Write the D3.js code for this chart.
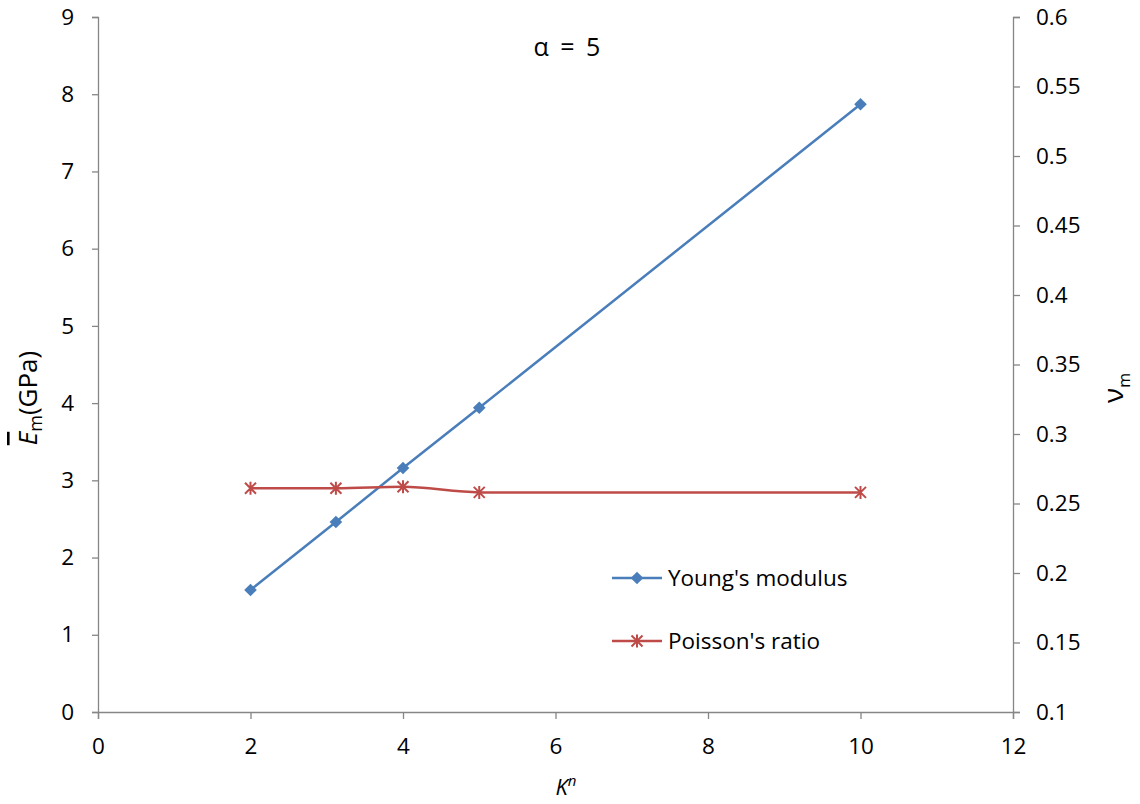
<!DOCTYPE html>
<html><head><meta charset="utf-8">
<script src="https://cdn.jsdelivr.net/npm/d3@7"></script>
<style>body{margin:0;background:#fff;} text{font-family:"Open Sans","Noto Sans",sans-serif;}</style>
</head><body>
<svg id="c" width="1140" height="804"></svg>
<script>
const xVals = [2, 3.12, 4, 5, 10];
const youngs = [1.58, 2.46, 3.16, 3.94, 7.87];
const poisson = [0.261, 0.261, 0.262, 0.258, 0.258];
const xTicks = [0, 2, 4, 6, 8, 10, 12];
const yLeftTicks = [0,1,2,3,4,5,6,7,8,9];
const yRightTicks = [0.1,0.15,0.2,0.25,0.3,0.35,0.4,0.45,0.5,0.55,0.6];
const seriesNames = ["Young's modulus", "Poisson's ratio"];

const svg = d3.select("#c");
const L = 98, R = 1013, T = 17, B = 712;
const x = d3.scaleLinear().domain([0,12]).range([L,R]);
const yL = d3.scaleLinear().domain([0,9]).range([B,T]);
const yR = d3.scaleLinear().domain([0.1,0.6]).range([B,T]);
const axisCol = "#868686", fs = "22.5px";

function style(g){
  g.select(".domain").attr("stroke", axisCol).attr("stroke-width",1.3);
  g.selectAll(".tick line").attr("stroke", axisCol).attr("stroke-width",1.3);
  g.selectAll(".tick text").attr("fill","#000").style("font-size",fs);
}
svg.append("g").attr("transform",`translate(0,${B})`)
  .call(d3.axisBottom(x).tickValues(xTicks).tickFormat(d3.format("d")).tickSizeOuter(0).tickSize(7).tickPadding(19)).call(style);
svg.append("g").attr("transform",`translate(${L},0)`)
  .call(d3.axisLeft(yL).tickValues(yLeftTicks).tickFormat(d3.format("d")).tickSizeOuter(0).tickSize(6).tickPadding(18)).call(style);
svg.append("g").attr("transform",`translate(${R},0)`)
  .call(d3.axisRight(yR).tickValues(yRightTicks).tickFormat(d=>String(+d.toFixed(2))).tickSizeOuter(0).tickSize(7).tickPadding(16)).call(style);

const blue = "#4a7ebb", red = "#be4b48";
const yd = xVals.map((v,i)=>[x(v), yL(youngs[i])]);
const pd = xVals.map((v,i)=>[x(v), yR(poisson[i])]);
svg.append("path").attr("d", d3.line()(yd)).attr("fill","none").attr("stroke",blue).attr("stroke-width",2.5);
svg.append("path").attr("d", d3.line().curve(d3.curveMonotoneX)(pd)).attr("fill","none").attr("stroke",red).attr("stroke-width",2.5);

function diamond(g, cx, cy){
  g.append("path").attr("d", d3.symbol(d3.symbolSquare, 80)()).attr("transform",`translate(${cx},${cy}) rotate(45)`).attr("fill",blue);
}
function star(g, cx, cy){
  const s = 5.5;
  g.append("path").attr("d",`M${cx-s},${cy-s}L${cx+s},${cy+s}M${cx-s},${cy+s}L${cx+s},${cy-s}M${cx},${cy-s-1}L${cx},${cy+s+1}`)
    .attr("stroke",red).attr("stroke-width",2).attr("fill","none");
}
yd.forEach(p=>diamond(svg,p[0],p[1]));
pd.forEach(p=>star(svg,p[0],p[1]));

// legend
const lg = svg.append("g");
[[578, 583, blue],[641, 646, red]].forEach(([ly,by,col],i)=>{
  lg.append("line").attr("x1",612).attr("x2",662).attr("y1",ly).attr("y2",ly).attr("stroke",col).attr("stroke-width",2.5);
  if(i===0) diamond(lg,637,ly); else star(lg,637,ly);
  lg.append("text").attr("x",668).attr("y",by+3).style("font-size","22.5px").text(seriesNames[i]);
});

svg.append("text").attr("x",567).attr("y",56).attr("text-anchor","middle").style("font-size","25px").style("word-spacing","5px").text("α = 5");

const xl = svg.append("text").attr("x",566).attr("y",795).attr("text-anchor","middle").style("font-size","22px").style("font-style","italic");
xl.append("tspan").text("K");
xl.append("tspan").attr("dy",-9).style("font-size","15px").text("n");

const ll = svg.append("text").attr("transform","translate(37,398) rotate(-90)").attr("text-anchor","middle").style("font-size","26px");
ll.append("tspan").style("font-style","italic").style("text-decoration","overline").text("E");
ll.append("tspan").attr("dy",5).style("font-size","18px").text("m");
ll.append("tspan").attr("dy",-5).text("(GPa)");

const rl = svg.append("text").attr("transform","translate(1123,388) rotate(-90)").attr("text-anchor","middle").style("font-size","28px");
rl.append("tspan").text("ν");
rl.append("tspan").attr("dy",7).style("font-size","16px").text("m");
</script>
</body></html>
